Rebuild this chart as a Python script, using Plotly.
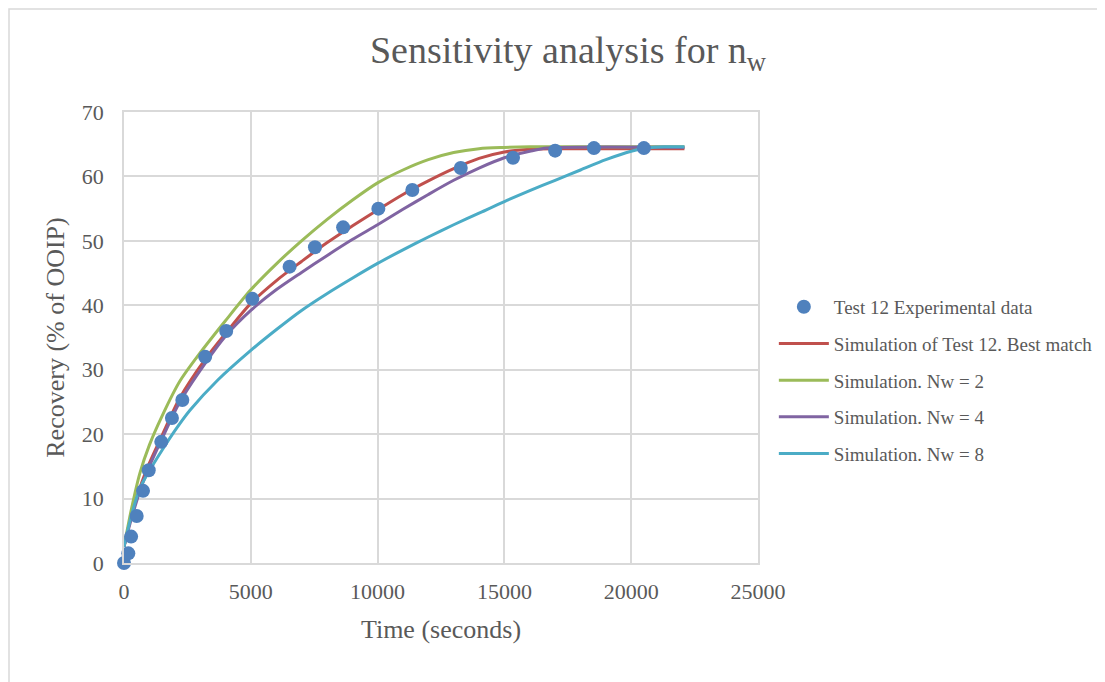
import plotly.graph_objects as go

# Experimental data (Test 12)
exp_time = [0, 170, 280, 500, 750, 975, 1470, 1890, 2300, 3200, 4030, 5060, 6530, 7530, 8640, 10030, 11370, 13280, 15340, 17000, 18530, 20500]
exp_rec = [0, 1.5, 4.1, 7.3, 11.2, 14.4, 18.8, 22.5, 25.3, 32.0, 36.0, 41.0, 46.0, 49.0, 52.1, 55.0, 57.9, 61.3, 62.9, 64.0, 64.4, 64.4]

# Simulation of Test 12, best match
red_t = [0, 300, 700, 1000, 1500, 2200, 3200, 4000, 5000, 6000, 7000, 8000, 9000, 10000, 11000, 12000, 13000, 14000, 15000, 16000, 17000, 22100]
red_y = [2.5, 7.5, 12.5, 15.5, 19.8, 25.6, 31.6, 35.6, 40.3, 43.8, 46.8, 49.7, 52.3, 54.8, 57.2, 59.3, 61.2, 62.8, 63.8, 64.2, 64.3, 64.3]

# Simulation Nw = 2
green_t = [0, 300, 630, 1000, 1500, 2200, 3000, 4000, 5000, 6000, 7000, 8000, 9000, 10000, 11000, 12000, 13000, 14000, 15000, 16000, 22100]
green_y = [2.5, 8.5, 14.0, 18.3, 22.8, 28.2, 32.6, 37.6, 42.4, 46.4, 50.0, 53.3, 56.3, 59.0, 61.0, 62.6, 63.7, 64.3, 64.5, 64.6, 64.6]

# Simulation Nw = 4
purple_t = [0, 300, 700, 1000, 1500, 2200, 3200, 4000, 5000, 6000, 7000, 8000, 9000, 10000, 11000, 12000, 13000, 14000, 15000, 16000, 16700, 22100]
purple_y = [2.5, 7.0, 12.0, 15.0, 19.3, 25.0, 31.0, 35.2, 39.2, 42.4, 45.1, 47.7, 50.2, 52.5, 54.9, 57.2, 59.4, 61.3, 62.9, 63.9, 64.4, 64.5]

# Simulation Nw = 8
cyan_t = [0, 300, 650, 1000, 1500, 2000, 2600, 3700, 5000, 6000, 7000, 8000, 9000, 10000, 11000, 12000, 13000, 14000, 15000, 16000, 17000, 18000, 19000, 20000, 20600, 21300, 22100]
cyan_y = [2.5, 7.5, 11.8, 14.3, 17.5, 20.5, 23.7, 28.4, 33.0, 36.2, 39.2, 41.8, 44.2, 46.5, 48.6, 50.6, 52.5, 54.3, 56.1, 57.8, 59.4, 61.0, 62.6, 63.9, 64.4, 64.6, 64.6]

x_ticks = [0, 5000, 10000, 15000, 20000, 25000]
y_ticks = [0, 10, 20, 30, 40, 50, 60, 70]

FONT = "Liberation Serif"
GREY = "#595959"

fig = go.Figure()

def sim(name, t, y, color, grp, rank):
    fig.add_trace(go.Scatter(x=t, y=y, mode="lines", name=name, legendgroup=grp, legendrank=rank,
                             line=dict(color=color, width=3, shape="spline", smoothing=0.8)))

sim("Simulation of Test 12. Best match", red_t, red_y, "#C0504D", "b", 2)
sim("Simulation. Nw = 2", green_t, green_y, "#9BBB59", "c", 3)
sim("Simulation. Nw = 4", purple_t, purple_y, "#8064A2", "d", 4)
sim("Simulation. Nw = 8", cyan_t, cyan_y, "#4BACC6", "e", 5)
fig.add_trace(go.Scatter(x=exp_time, y=exp_rec, mode="markers", name="Test 12 Experimental data",
                         legendgroup="a", legendrank=1, cliponaxis=False,
                         marker=dict(color="#4F81BD", size=14)))

W, H = 1097, 674
L, T = 116, 104
PW, PH = 634, 451

fig.update_layout(
    width=W, height=H,
    paper_bgcolor="white", plot_bgcolor="white",
    margin=dict(l=L, r=W - L - PW, t=T, b=H - T - PH, autoexpand=False),
    font=dict(family=FONT, color=GREY),
    title=dict(text="Sensitivity analysis for n<sub>w</sub>", x=560 / W, xanchor="center",
               y=1 - 42 / H, yanchor="middle", xref="container", yref="container",
               font=dict(size=38, family=FONT, color=GREY)),
    legend=dict(x=1.025, xanchor="left", y=0.61, yanchor="top",
                font=dict(size=19, family=FONT, color=GREY),
                tracegroupgap=9, itemwidth=50, bgcolor="rgba(0,0,0,0)"),
    xaxis=dict(range=[0, 25000], tickvals=x_ticks, ticktext=[str(v) for v in x_ticks],
               showgrid=True, gridcolor="#D9D9D9", gridwidth=1.5, zeroline=False,
               showline=True, linecolor="#D9D9D9", linewidth=1.5, mirror=True,
               tickfont=dict(size=22, family=FONT, color=GREY), ticks="", ticklabelstandoff=8,
               title=dict(text="Time (seconds)", font=dict(size=26, family=FONT, color=GREY), standoff=17)),
    yaxis=dict(range=[0, 70], tickvals=y_ticks, ticktext=[str(v) for v in y_ticks],
               showgrid=True, gridcolor="#D9D9D9", gridwidth=1.5, zeroline=False,
               showline=True, linecolor="#D9D9D9", linewidth=1.5, mirror=True,
               tickfont=dict(size=22, family=FONT, color=GREY), ticks="", ticklabelstandoff=14,
               title=dict(text="Recovery (% of OOIP)", font=dict(size=26, family=FONT, color=GREY), standoff=10)),
    shapes=[dict(type="rect", xref="paper", yref="paper",
                 x0=(1 - L) / PW, x1=(W + 10 - L) / PW,
                 y0=-(H + 10 - T - PH) / PH, y1=(T + PH - 1) / PH,
                 line=dict(color="#D9D9D9", width=1.5), fillcolor="rgba(0,0,0,0)", layer="below")],
)

fig.write_html("out.html")
